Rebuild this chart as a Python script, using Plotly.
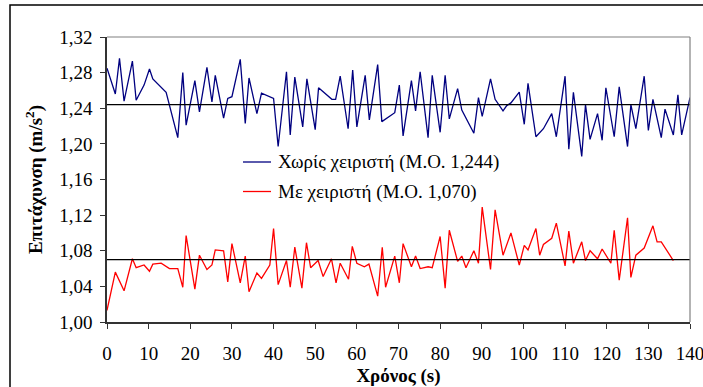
import plotly.graph_objects as go

# ---- data ----
t_blue = [0, 2, 3, 4.1, 6.1, 7, 8.9, 10.2, 11, 14.2, 17, 18.2, 19, 21.1, 22.2, 24, 25.2, 26, 28, 29,
          30, 32, 33.2, 34.1, 36, 37.1, 40, 41.1, 43.1, 44, 45.1, 47, 48, 50, 50.8, 54, 54.9, 56, 57.9, 59,
          60, 62, 63, 65, 66, 69.1, 70.2, 71.1, 73.1, 74.1, 75.2, 77.1, 78.1, 80, 81.2, 82.2, 84.2, 85.2,
          88.1, 89.2, 90.1, 92.1, 93.2, 95.1, 96, 97, 99, 100.2, 101.1, 103, 104.8, 106.8, 107.9, 110,
          110.9, 112, 114, 114.9, 116, 117.8, 118.9, 119.8, 121.8, 123, 125, 125.8, 127, 129, 130, 131.1,
          133.1, 134, 136, 137.1, 138, 140]
v_blue = [1.285, 1.256, 1.296, 1.248, 1.293, 1.249, 1.266, 1.284, 1.273, 1.258, 1.207, 1.280, 1.221,
          1.271, 1.236, 1.286, 1.247, 1.277, 1.229, 1.251, 1.253, 1.295, 1.223, 1.274, 1.234, 1.257,
          1.251, 1.197, 1.281, 1.210, 1.275, 1.219, 1.273, 1.216, 1.263, 1.250, 1.250, 1.276, 1.217,
          1.283, 1.219, 1.277, 1.227, 1.289, 1.225, 1.235, 1.266, 1.209, 1.271, 1.237, 1.281, 1.207,
          1.277, 1.213, 1.277, 1.228, 1.262, 1.238, 1.212, 1.252, 1.231, 1.273, 1.250, 1.237, 1.243,
          1.246, 1.258, 1.222, 1.268, 1.208, 1.217, 1.234, 1.208, 1.276, 1.194, 1.258, 1.186, 1.244,
          1.205, 1.234, 1.204, 1.263, 1.208, 1.264, 1.197, 1.244, 1.217, 1.276, 1.215, 1.250, 1.207,
          1.239, 1.210, 1.255, 1.210, 1.252]

t_red = [0, 2, 4.1, 6.1, 7, 8.9, 10.2, 11, 13, 15, 17, 18.2, 19, 21.1, 22.2, 24, 25.2, 26, 28, 29,
         30, 32, 33.2, 34.1, 36, 37.1, 39.1, 40, 41.1, 43.1, 44, 45.1, 46.8, 47.9, 48.9, 50.7, 51.9, 53.9,
         55, 56, 58, 58.9, 60, 61.8, 62.9, 65, 66.1, 66.9, 69.1, 70.2, 71.1, 73.1, 74.1, 75.2, 77.1, 78.1,
         80, 81.2, 82.2, 84.2, 85.2, 86.2, 88.1, 89.2, 90.1, 92.1, 93.2, 95.1, 97, 99, 100.2, 101.1, 103,
         103.9, 104.8, 106.8, 107.9, 110, 110.9, 112, 114, 114.9, 116, 117.8, 118.9, 121, 121.8, 123, 125,
         125.8, 127, 129, 131.1, 132.1, 133.1, 136]
v_red = [1.013, 1.056, 1.035, 1.071, 1.061, 1.064, 1.057, 1.065, 1.066, 1.060, 1.060, 1.039, 1.097,
         1.037, 1.075, 1.059, 1.064, 1.081, 1.080, 1.045, 1.088, 1.044, 1.074, 1.034, 1.055, 1.049,
         1.064, 1.105, 1.042, 1.069, 1.039, 1.084, 1.038, 1.089, 1.061, 1.069, 1.051, 1.071, 1.044,
         1.066, 1.048, 1.085, 1.066, 1.062, 1.065, 1.029, 1.084, 1.039, 1.074, 1.044, 1.088, 1.062,
         1.074, 1.060, 1.062, 1.061, 1.096, 1.038, 1.103, 1.068, 1.074, 1.061, 1.080, 1.066, 1.129,
         1.059, 1.126, 1.075, 1.100, 1.064, 1.086, 1.081, 1.105, 1.075, 1.087, 1.094, 1.111, 1.063,
         1.102, 1.066, 1.090, 1.069, 1.080, 1.071, 1.082, 1.066, 1.103, 1.047, 1.117, 1.050, 1.075,
         1.083, 1.108, 1.090, 1.090, 1.069]

mean_blue = 1.244
mean_red = 1.070
x_range = [0, 140]

name_blue = "Χωρίς χειριστή (Μ.Ο. 1,244)"
name_red = "Με χειριστή (Μ.Ο. 1,070)"

x_ticks = list(range(0, 141, 10))
y_tickvals = [1.00, 1.04, 1.08, 1.12, 1.16, 1.20, 1.24, 1.28, 1.32]
y_ticktext = ["1,00", "1,04", "1,08", "1,12", "1,16", "1,20", "1,24", "1,28", "1,32"]

x_title = "Χρόνος (s)"
y_title = "Επιτάχυνση (m/s<sup>2</sup>)"

# ---- figure ----
FONT = "Liberation Serif"
FS = 19
W, H = 703, 387
ML, MR, MT, MB = 107, 13, 37, 65
PW, PH = W - ML - MR, H - MT - MB


def px_to_paper_x(px):
    return (px - ML) / PW


def px_to_paper_y(py):
    return (H - MB - py) / PH


fig = go.Figure()
fig.add_trace(go.Scatter(x=t_blue, y=v_blue, mode="lines", line=dict(color="#000080", width=1.3),
                         name=name_blue, showlegend=False))
fig.add_trace(go.Scatter(x=t_red, y=v_red, mode="lines", line=dict(color="#FF0000", width=1.3),
                         name=name_red, showlegend=False))
fig.add_trace(go.Scatter(x=x_range, y=[mean_blue, mean_blue], mode="lines",
                         line=dict(color="black", width=1.2), showlegend=False, hoverinfo="skip"))
fig.add_trace(go.Scatter(x=x_range, y=[mean_red, mean_red], mode="lines",
                         line=dict(color="black", width=1.2), showlegend=False, hoverinfo="skip"))

shapes = []
shapes.append(dict(type="line", xref="paper", yref="paper", x0=0, x1=1, y0=1, y1=1,
                   line=dict(color="#808080", width=1.2)))
shapes.append(dict(type="line", xref="paper", yref="paper", x0=1, x1=1, y0=0, y1=1,
                   line=dict(color="#808080", width=1.2)))
shapes.append(dict(type="rect", xref="paper", yref="paper",
                   x0=px_to_paper_x(10), x1=px_to_paper_x(720),
                   y0=px_to_paper_y(400), y1=px_to_paper_y(5),
                   line=dict(color="black", width=1.5)))

annotations = []
legend_items = [(name_blue, "#000080", 162.0), (name_red, "#FF0000", 191.5)]
for label, color, py in legend_items:
    shapes.append(dict(type="line", xref="paper", yref="paper",
                       x0=px_to_paper_x(243), x1=px_to_paper_x(271),
                       y0=px_to_paper_y(py), y1=px_to_paper_y(py),
                       line=dict(color=color, width=1.3)))
    annotations.append(dict(xref="paper", yref="paper", x=px_to_paper_x(276), y=px_to_paper_y(py),
                            xanchor="left", yanchor="middle", text=label, showarrow=False,
                            font=dict(family=FONT, size=FS, color="black")))

fig.update_layout(
    width=W, height=H,
    margin=dict(l=ML, r=MR, t=MT, b=MB, autoexpand=False),
    paper_bgcolor="white", plot_bgcolor="white",
    font=dict(family=FONT, size=FS, color="black"),
    shapes=shapes, annotations=annotations,
    showlegend=False,
)
fig.update_xaxes(range=x_range, tickvals=x_ticks, ticktext=[str(v) for v in x_ticks],
                 showgrid=False, zeroline=False, showline=True, linecolor="#333333", linewidth=1.5,
                 ticks="outside", ticklen=5, tickcolor="#333333", tickwidth=1.2,
                 ticklabelstandoff=8, ticklabeloverflow="allow",
                 title=dict(text="<b>" + x_title + "</b>", standoff=9,
                            font=dict(family=FONT, size=FS)))
fig.update_yaxes(range=[1.00, 1.32], tickvals=y_tickvals, ticktext=y_ticktext,
                 showgrid=False, zeroline=False, showline=True, linecolor="#333333", linewidth=1.5,
                 ticks="outside", ticklen=5, tickcolor="#333333", tickwidth=1.2,
                 ticklabelstandoff=4, ticklabeloverflow="allow",
                 title=dict(text="<b>" + y_title + "</b>", standoff=12,
                            font=dict(family=FONT, size=FS)))

fig.write_html("out.html", config={"displayModeBar": False},
               post_script="document.body.style.margin='0';document.body.style.padding='0';")
